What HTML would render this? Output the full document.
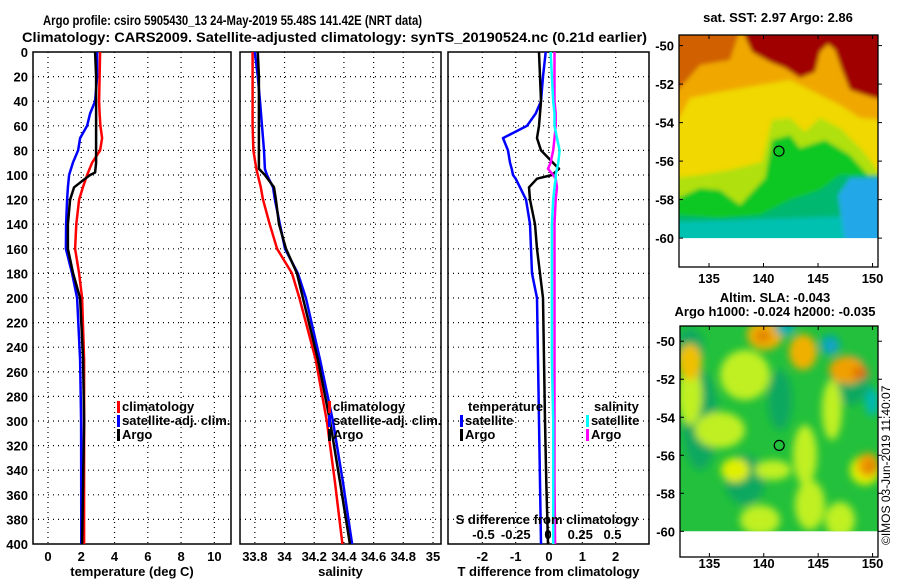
<!DOCTYPE html>
<html><head><meta charset="utf-8"><style>
html,body{margin:0;padding:0;background:#fff;}
svg{display:block;font-family:"Liberation Sans",Arial,sans-serif;}
.t{font-size:13px;font-weight:bold;fill:#000;}
</style></head><body>
<svg id="c" width="900" height="580" viewBox="0 0 900 580">
<text x="43" y="25" font-size="14" font-weight="bold" textLength="379" lengthAdjust="spacingAndGlyphs">Argo profile: csiro 5905430_13 24-May-2019 55.48S 141.42E (NRT data)</text>
<text x="22" y="42" font-size="14" font-weight="bold" textLength="625" lengthAdjust="spacingAndGlyphs">Climatology: CARS2009. Satellite-adjusted climatology: synTS_20190524.nc (0.21d earlier)</text>
<g id="panels"></g>
<g id="maps"></g>
<text transform="translate(890,545) rotate(-90)" font-size="12">©IMOS 03-Jun-2019 11:40:07</text>
</svg>
<script>
// ---- data ----
const depthT=[0,20,40,50,60,70,80,90,100,110,120,140,160,180,200,250,300,400];
const tempClim=[3.13,3.1,3.07,3.1,3.15,3.25,3.13,2.65,2.35,2.1,1.87,1.7,1.63,1.87,2.05,2.17,2.17,2.17];
const tempSat=[2.95,2.95,2.83,2.53,2.35,1.93,1.81,1.5,1.27,1.2,1.15,1.09,1.08,1.45,1.75,1.93,1.99,2.0];
const depthA=[0,20,60,90,98,100,103,110,120,140,160,180,200,250,300,400];
const tempArgo=[2.83,2.89,2.89,2.89,2.83,2.53,2.23,1.57,1.33,1.2,1.2,1.51,1.93,2.11,2.17,2.05];
const depthS=[0,20,40,60,80,95,100,110,120,140,160,180,200,250,300,350,400];
const salClim=[33.785,33.785,33.785,33.785,33.79,33.81,33.82,33.84,33.855,33.9,33.95,34.05,34.1,34.21,34.285,34.34,34.39];
const salSat=[33.8,33.82,33.835,33.848,33.862,33.868,33.882,33.922,33.935,33.969,34.003,34.09,34.144,34.239,34.326,34.394,34.455];
const salArgo=[33.82,33.827,33.827,33.827,33.827,33.827,33.868,33.929,33.942,33.963,34.01,34.084,34.124,34.225,34.306,34.374,34.44];
const depthD=[0,20,40,50,60,70,80,90,95,100,103,110,120,140,160,180,200,250,300,350,400];
const tdiffSat=[-0.1,-0.18,-0.24,-0.4,-0.66,-1.38,-1.23,-1.17,-1.12,-1.08,-1.0,-0.87,-0.69,-0.57,-0.54,-0.51,-0.36,-0.33,-0.3,-0.27,-0.24];
const tdiffArgo=[-0.3,-0.27,-0.24,-0.27,-0.3,-0.36,-0.24,0.12,0.3,0.09,-0.36,-0.6,-0.57,-0.42,-0.36,-0.27,-0.18,-0.15,-0.12,-0.08,-0.03];
const sdiffSat=[0.02,0.03,0.04,0.05,0.05,0.07,0.09,0.08,0.07,0.06,0.06,0.05,0.04,0.03,0.03,0.03,0.03,0.03,0.04,0.04,0.04];
const sdiffArgo=[0.05,0.05,0.05,0.06,0.06,0.05,0.04,0.02,0.0,0.04,0.06,0.07,0.06,0.05,0.05,0.05,0.05,0.05,0.05,0.05,0.055];
const depthTicks=[0,20,40,60,80,100,120,140,160,180,200,220,240,260,280,300,320,340,360,380,400];
const tTicks=[0,2,4,6,8,10];
const sTicks=[33.8,34,34.2,34.4,34.6,34.8,35];
const sTickLabels=["33.8","34","34.2","34.4","34.6","34.8","35"];
const dTicks=[-2,-1,0,1,2];
const sdTicks=[-0.5,-0.25,0,0.25,0.5];
const sdTickLabels=["-0.5","-0.25","0","0.25","0.5"];
const latTicks=[-50,-52,-54,-56,-58,-60];
const lonTicks=[135,140,145,150];
const floatPos=[141.42,-55.48];

const NS="http://www.w3.org/2000/svg";
function mk(tag,attrs,parent,txt){const e=document.createElementNS(NS,tag);for(const k in attrs)e.setAttribute(k,attrs[k]);if(txt!==undefined)e.textContent=txt;parent.appendChild(e);return e;}
const P=document.getElementById('panels');
const Y0=52,Y1=544;
const y=d=>Y0+(d-0)*(Y1-Y0)/400;
function panel(name,x0,x1,xmin,xmax,ticks,labels,title,showY){
  const g=mk('g',{},P);
  
  
  const sx=v=>x0+(v-xmin)*(x1-x0)/(xmax-xmin);
  depthTicks.forEach(d=>{if(d>0&&d<400){const l=mk('line',{x1:x0,x2:x1,y1:y(d),y2:y(d),stroke:'#000','stroke-dasharray':'1 4','stroke-width':1.2},g);}
    if(showY){const t=mk('text',{x:x0-5,y:y(d)+5,'text-anchor':'end',class:'t'},g,String(d));}});
  ticks.forEach((v,i)=>{const X=sx(v);const l=mk('line',{x1:X,x2:X,y1:Y0,y2:Y1,stroke:'#000','stroke-dasharray':'1 4','stroke-width':1.2},g);
    const t=mk('text',{x:X,y:561,'text-anchor':'middle',class:'t'},g,labels[i]);});
  const r=mk('rect',{x:x0,y:Y0,width:x1-x0,height:Y1-Y0,fill:'none',stroke:'#000','stroke-width':1.5},g);
  const tt=mk('text',{x:(x0+x1)/2,y:576,'text-anchor':'middle',class:'t'},g,title);
  return {g,sx};
}
function line(g,sx,depths,vals,color,name,w){
  const pts=vals.map((v,i)=>sx(v).toFixed(1)+','+y(depths[i]).toFixed(1)).join(' ');
  const p=mk('polyline',{points:pts,fill:'none',stroke:color,'stroke-width':w||2.5,'stroke-linejoin':'round'},g);
  
  
}
function legend(g,x,yy,color,label,name){
  const r=mk('rect',{x:x,y:yy-10,width:3,height:12,fill:color},g);
  
  const t=mk('text',{x:x+5,y:yy,class:'t'},g,label);
  
}
// panel 1
const p1=panel('temperature-panel',33,231,-0.9,11.0,tTicks,tTicks.map(String),'temperature (deg C)',true);
line(p1.g,p1.sx,depthT,tempClim,'#f00','temp-climatology-line');
line(p1.g,p1.sx,depthT,tempSat,'#00f','temp-satellite-line');
line(p1.g,p1.sx,depthA,tempArgo,'#000','temp-argo-line');
legend(p1.g,117,411,'#f00','climatology','legend-climatology');
legend(p1.g,117,425,'#00f','satellite-adj. clim.','legend-satellite');
legend(p1.g,117,439,'#000','Argo','legend-argo');
// panel 2
const p2=panel('salinity-panel',240,441,33.7,35.054,sTicks,sTickLabels,'salinity',false);
line(p2.g,p2.sx,depthS,salClim,'#f00','sal-climatology-line');
line(p2.g,p2.sx,depthS,salSat,'#00f','sal-satellite-line');
line(p2.g,p2.sx,depthS,salArgo,'#000','sal-argo-line');
legend(p2.g,328,411,'#f00','climatology','legend2-climatology');
legend(p2.g,328,425,'#00f','satellite-adj. clim.','legend2-satellite');
legend(p2.g,328,439,'#000','Argo','legend2-argo');
// panel 3
const p3=panel('difference-panel',448,649,-3.03,3.0,dTicks,dTicks.map(String),'T difference from climatology',false);
const sdx=v=>548+v*129;
line(p3.g,p3.sx,depthD,tdiffSat,'#00f','tdiff-satellite-line');
line(p3.g,p3.sx,depthD,tdiffArgo,'#000','tdiff-argo-line');
line(p3.g,sdx,depthD,sdiffArgo,'#f0f','sdiff-argo-line');
line(p3.g,sdx,depthD,sdiffSat,'#0ff','sdiff-satellite-line');
(function(){const g=p3.g;
 let t=mk('text',{x:468,y:411,class:'t'},g,'temperature');
 t=mk('text',{x:594,y:411,class:'t'},g,'salinity');
 legend(g,460,425,'#00f','satellite','legend3-t-satellite');
 legend(g,460,439,'#000','Argo','legend3-t-argo');
 legend(g,586,425,'#0ff','satellite','legend3-s-satellite');
 legend(g,586,439,'#f0f','Argo','legend3-s-argo');
 t=mk('text',{x:547,y:524,'text-anchor':'middle',class:'t'},g,'S difference from climatology');
 sdTicks.forEach((v,i)=>{const tt=mk('text',{x:sdx(v),y:539,'text-anchor':'middle',class:'t'},g,sdTickLabels[i]);});
})();

// ---- maps ----
const M=document.getElementById('maps');
function map(name,fx0,fy0,fx1,fy1,lonA,lonB,latA,latB,lonLabelY){
  const g=mk('g',{},M);
  
  
  const mx=lo=>fx0+(lo-lonA)*(fx1-fx0)/(lonB-lonA);
  const my=la=>fy0+(latA-la)*(fy1-fy0)/(latA-latB);
  return {g,mx,my,fx0,fy0,fx1,fy1,lonLabelY};
}
function finishMap(m){
  const g=m.g;
  const cy=m.my(floatPos[1]);const cx=m.mx(floatPos[0]);
  const c=mk('circle',{cx:cx,cy:cy,r:5,fill:'none',stroke:'#000','stroke-width':1.2},g);
  const r=mk('rect',{x:m.fx0,y:m.fy0,width:m.fx1-m.fx0,height:m.fy1-m.fy0,fill:'none',stroke:'#000','stroke-width':1.3},g);
  latTicks.forEach(la=>{const Y=m.my(la);mk('line',{x1:m.fx0,x2:m.fx0+4,y1:Y,y2:Y,stroke:'#000'},g);mk('line',{x1:m.fx1,x2:m.fx1+4,y1:Y,y2:Y,stroke:'#000'},g);
    const t=mk('text',{x:m.fx0-5,y:Y+5,'text-anchor':'end',class:'t'},g,String(la));});
  lonTicks.forEach(lo=>{const X=m.mx(lo);mk('line',{x1:X,x2:X,y1:m.fy0,y2:m.fy0+4,stroke:'#000'},g);mk('line',{x1:X,x2:X,y1:m.fy1,y2:m.fy1-4,stroke:'#000'},g);
    const t=mk('text',{x:X,y:m.lonLabelY,'text-anchor':'middle',class:'t'},g,String(lo));});
}
// SST map
const m1=map('sst-map',679,35,878,267,132.25,150.5,-49.45,-61.5,283);
(function(){const g=m1.g;const top=35,bot=m1.my(-60),L=679,R=878;
 const defs=mk('defs',{},g);
 const f=mk('filter',{id:'b1',x:'-10%',y:'-10%',width:'120%',height:'120%'},defs);mk('feGaussianBlur',{stdDeviation:2},f);
 const cl=mk('clipPath',{id:'cl1'},defs);mk('rect',{x:L,y:top,width:R-L,height:bot-top},cl);
 const inner=mk('g',{'clip-path':'url(#cl1)'},g);
 const gg=mk('g',{filter:'url(#b1)'},inner);
 mk('rect',{x:L-5,y:top-5,width:R-L+10,height:bot-top+10,fill:'#f0d800'},gg);
 mk('polygon',{points:`${L-5},30 ${R+5},30 ${R+5},120 860,118 840,105 820,95 790,80 760,85 720,92 690,98 ${L-5},128`,fill:'#f0a800'},gg);
 mk('polygon',{points:`${L-5},30 740,30 730,60 700,65 ${L-5},95`,fill:'#d06000'},gg);
 mk('polygon',{points:`742,30 ${R+5},30 ${R+5},100 868,96 850,90 842,70 835,50 828,44 820,52 815,72 800,78 785,68 770,62 752,52`,fill:'#a00000'},gg);
 mk('polygon',{points:`${L-5},178 700,175 730,170 762,162 772,120 790,118 805,132 820,118 840,128 860,148 870,160 ${R+5},180 ${R+5},${bot+5} ${L-5},${bot+5}`,fill:'#b0e010'},gg);
 mk('polygon',{points:`${L-5},200 700,188 720,190 740,205 765,178 772,140 790,135 800,148 825,140 850,155 868,175 ${R+5},190 ${R+5},${bot+5} ${L-5},${bot+5}`,fill:'#10c820'},gg);
 mk('polygon',{points:`${L-5},215 720,218 760,215 790,200 820,190 840,175 ${R+5},175 ${R+5},${bot+5} ${L-5},${bot+5}`,fill:'#00b870'},gg);
 mk('polygon',{points:`${L-5},222 ${R+5},215 ${R+5},${bot+5} ${L-5},${bot+5}`,fill:'#00c0b0'},gg);
 mk('polygon',{points:`838,195 850,178 ${R+5},178 ${R+5},${bot+5} 845,${bot+5}`,fill:'#20a8e8'},gg);
 const t=mk('text',{x:778,y:22,'text-anchor':'middle',class:'t'},g,'sat. SST: 2.97 Argo: 2.86');
})();
finishMap(m1);
// SLA map
const m2=map('sla-map',680,326,878,557,132.3,150.5,-49.2,-61.35,568);
(function(){const g=m2.g;const top=326,bot=m2.my(-60),L=680,R=878;
 const defs=mk('defs',{},g);
 const f=mk('filter',{id:'b2',x:'-20%',y:'-20%',width:'140%',height:'140%'},defs);mk('feGaussianBlur',{stdDeviation:4},f);
 const cl=mk('clipPath',{id:'cl2'},defs);mk('rect',{x:L,y:top,width:R-L,height:bot-top},cl);
 const inner=mk('g',{'clip-path':'url(#cl2)'},g);
 mk('rect',{x:L,y:top,width:R-L,height:bot-top,fill:'#22c03c'},inner);
 const gg=mk('g',{filter:'url(#b2)'},inner);
 const blobs=[[690,350,14,22,'#10a860'],[700,420,18,50,'#10a860'],[780,400,12,30,'#10a860'],[850,380,20,25,'#10a860'],[745,480,20,25,'#10a860'],
  [745,375,25,25,'#c0f020'],[690,395,12,30,'#c0f020'],[720,430,25,18,'#c0f020'],[735,470,14,12,'#e0f000'],[805,455,12,30,'#c0f020'],[832,410,10,30,'#c0f020'],[810,505,15,25,'#c0f020'],[865,470,15,15,'#e0f000'],[840,520,15,18,'#c0f020'],[760,520,20,15,'#c0f020'],[773,470,18,10,'#c0f020'],
  [690,362,12,18,'#f0c000'],[765,335,18,15,'#f0b000'],[763,336,8,6,'#e08000'],[803,352,14,18,'#f0b000'],[847,370,18,14,'#f0a000'],[860,373,8,6,'#e07000'],[868,465,11,12,'#f0a000'],[870,467,5,6,'#e08000'],
  [785,328,10,8,'#00b0b0'],[830,345,10,10,'#00a8b0'],[832,347,5,5,'#20a0d0'],[872,402,7,14,'#00b8b0']];
 blobs.forEach(b=>mk('ellipse',{cx:b[0],cy:b[1],rx:b[2],ry:b[3],fill:b[4]},gg));
 let t=mk('text',{x:775,y:302,'text-anchor':'middle',class:'t'},g,'Altim. SLA: -0.043');
 t=mk('text',{x:775,y:316,'text-anchor':'middle',class:'t'},g,'Argo h1000: -0.024 h2000: -0.035');
})();
finishMap(m2);
</script>
</body></html>
